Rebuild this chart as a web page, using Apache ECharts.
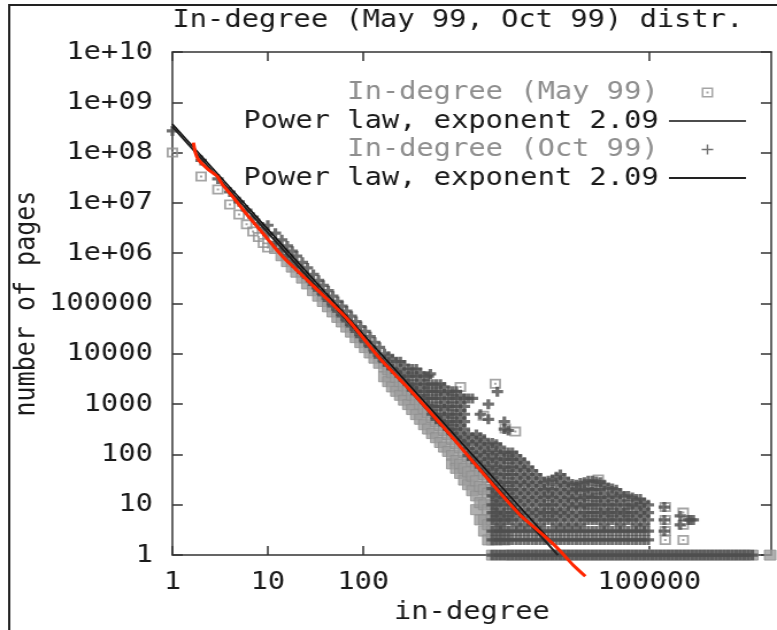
<!DOCTYPE html>
<html>
<head>
<meta charset="utf-8">
<script src="https://cdn.jsdelivr.net/npm/echarts@6/dist/echarts.min.js"></script>
<style>
html,body{margin:0;padding:0;background:#fff;overflow:hidden;}
#c{width:676px;height:630px;transform:scaleX(1.1494);transform-origin:0 0;}
</style>
</head>
<body>
<div id="c"></div>
<script>
// ---- texts ----
const titleText = 'In-degree (May 99, Oct 99) distr.';
const xName = 'in-degree';
const yName = 'number of pages';
const mayName = 'In-degree (May 99)';
const octName = 'In-degree (Oct 99)';
const lawName1 = 'Power law, exponent 2.09';
const lawName2 = 'Power law, exponent 2.09#2';

// ---- ticks ----
const xTickValues = [1, 10, 100, 100000];
const xTickLabels = ['1', '10', '100', '100000'];
const yTickValues = [1, 10, 100, 1000, 10000, 100000, 1e6, 1e7, 1e8, 1e9, 1e10];
const yTickLabels = ['1', '10', '100', '1000', '10000', '100000', '1e+06', '1e+07', '1e+08', '1e+09', '1e+10'];

// ---- May 99 data: [in-degree, [counts...]] ----
const mayColumns = [
  [1,[1.0e8]],[2,[3.35e7]],[3,[1.85e7]],[4,[9.3e6]],[5,[5.9e6]],[6,[3.75e6]],[7,[2.7e6]],[8,[2.1e6]],[9,[1.6e6]],[10,[1.3e6]],
  [12,[1.24e6]],[14,[8.9e5]],[16,[6.8e5]],[18,[5.3e5]],[20,[4.2e5]],[23,[3.2e5]],[26,[2.45e5]],[30,[1.8e5]],[34,[1.4e5]],
  [38,[1.1e5]],[43,[8.6e4]],[48,[6.8e4]],[54,[5.3e4]],[60,[4.3e4]],[67,[3.4e4]],[75,[2.7e4]],[84,[2.1e4]],[94,[1.67e4]],
  [105,[1.33e4]],[118,[1.04e4]],[132,[8.2e3]],[148,[6.5e3]],
  [167,[5500,3500]],[184,[4800,2800]],[202,[4200,2200]],[223,[3400,1800]],[245,[2800,1500]],[270,[2300,1200]],
  [298,[1850,980]],[328,[1500,780]],[361,[1230,620]],[398,[1000,500]],[438,[815,390]],[482,[670,320]],
  [531,[540,260]],[585,[450,215]],[645,[375,173]],[710,[300,140]],[782,[250,115]],[861,[200,95,65]],
  [948,[165,76,53]],[1045,[135,64,42]],[1150,[110,53,31]],[1267,[90,45,25]],[1396,[73,37,19]],[1537,[60,30,15,8]],
  [1693,[48,23,11,5]],[1863,[40,20,10,5,3]],[2053,[34,17,8,4,2]],[2260,[20,10,5,3,2,1]],[2490,[12,6,3,2,1]],[3020,[5,3,2,1]]
];
const mayOutliers = [
  [1045,[2200]],[2431,[2550]],[1820,[590]],[3090,[330]],[3940,[285]],[29200,[32]],
  [147000,[9,5,3,2]],[227000,[7,4,2]]
];
const mayRowK = [3326,3664,4034,4444,4894,5390,5937,6540,7200,7930,8735,9620,10600,11670,12850,14160,15590,17170,
  18910,20830,22940,25270,27820,30650,33750,37180,40940,45100,49660,54700,60240,66350,73080,80480,88650,97600,
  107500,118400,130400,143600,158100,174200,191800,211300,232600,256300,282200,311000,342300,377000,415000,
  457000,503500,555000,610800,673000,741000,817000,899000,990000,1091000,1200000,1850000];

// ---- Oct 99 data: [in-degree, [counts...]] ----
const octColumns = [
  [1,[2.7e8]],[2,[7.0e7]],[3,[3.0e7]],[4,[1.65e7]],[5,[1.05e7]],[6,[7.2e6]],[7,[5.2e6]],[8,[3.9e6]],[9,[3.1e6]],
  [10,[3.6e6,2.4e6]],[12,[2.5e6,1.65e6]],[14,[1.85e6,1.2e6]],[16,[1.4e6,9.0e5]],[18,[1.1e6,7.0e5]],[20,[8.8e5,5.6e5]],
  [23,[6.6e5,4.2e5]],[26,[5.1e5,3.3e5]],[30,[3.8e5,2.4e5]],[34,[2.9e5,1.85e5]],[38,[2.3e5,1.5e5]],[43,[1.8e5,1.15e5]],
  [48,[1.4e5,9.0e4]],[54,[1.1e5,7.1e4]],[60,[8.9e4,5.7e4]],[67,[7.1e4,4.5e4]],[75,[5.6e4,3.6e4]],[84,[4.4e4,2.8e4]],
  [94,[3.5e4,2.2e4]],[105,[2.8e4,1.75e4]],[118,[2.2e4,1.4e4]],[132,[1.7e4,1.1e4]],[148,[1.35e4,8.6e3]],
  [167,[10000,7000]],[184,[9000,6000]],[202,[8000,5000]],[223,[7000,4500]],[245,[7000,5000,3600]],
  [270,[6000,4200,3000]],[298,[5000,3600,2500]],[328,[5000,3600,2500,1900]],[361,[5000,3600,2500,1800]],
  [398,[4200,3000,2100,1500]],[438,[3600,2500,1800,1300]],[482,[3600,2500,1800,1300,950]],
  [531,[2500,1800,1300,900,630]],[585,[2500,1800,1300,900,630,500]],[645,[2500,1800,1300,900,630,450]],
  [710,[2200,1600,1100,800,560,400]],[782,[1800,1300,900,630,450,320]],[861,[1800,1300,900,630,450,320,260]],
  [948,[1800,1300,900,630,450,320,220]],[1045,[1500,1100,750,530,380,270,190]],
  [1150,[1300,900,630,450,320,220,160]],[1267,[1300,250,180,130,95]],[1396,[1300,220,160,110,80]],
  [1537,[250,180,130,95,70]],[1693,[630,220,160,110,80,56]],[1863,[200,140,100,70,50]],
  [2053,[1000,500,160,110,80,56,40]],
  [2260,[170,120,85,60,42,30,21,15,10,7,5,3,2,1]],[2490,[160,110,80,56,40,28,20,14,10,7,5,3,2,1]],
  [2742,[140,100,70,50,35,25,17,12,8,6,4,3,2,1]],[3020,[450,320,110,80,56,40,28,20,14,10,7,5,3,2,1]],
  [3326,[300,110,80,56,40,28,20,14,10,7,5,3,2,1]],[3664,[110,80,56,40,28,20,14,10,7,5,3,2,1]],
  [4034,[95,68,48,34,24,17,12,8,6,4,3,2,1]],[4444,[80,56,40,28,20,14,10,7,5,3,2,1]],
  [4894,[70,50,35,25,17,12,8,6,4,3,2,1]],[5390,[56,40,28,20,14,10,7,5,3,2,1]],
  [5937,[48,34,24,17,12,8,6,4,3,2,1]],[6540,[40,28,20,14,10,7,5,3,2,1]],
  [7200,[34,24,17,12,8,6,4,3,2,1]],[7930,[28,20,14,10,7,5,3,2,1]],[8735,[30,21,15,10,7,5,3,2,1]],
  [9620,[32,20,14,10,7,5,3,2,1]],[10600,[36,25,17,12,8,6,4,3,2,1]],[11670,[40,28,20,14,10,7,5,3,2,1]],
  [12850,[34,24,17,12,8,6,4,3,2,1]],[14160,[28,20,14,10,7,5,3,2,1]],[15590,[26,18,13,9,6,4,3,2,1]],
  [17170,[25,20,14,10,7,5,3,2,1]],[18910,[27,19,13,9,6,4,3,2,1]],[20830,[28,20,14,10,7,5,3,2,1]],
  [22940,[30,21,15,10,7,5,3,2,1]],[25270,[30,20,14,10,7,5,3,2,1]],[27820,[29,20,14,10,7,5,3,2,1]],
  [30650,[28,20,14,10,7,5,3,2,1]],[33750,[25,17,12,8,6,4,3,2,1]],[37180,[22,14,10,7,5,3,2,1]],
  [40940,[21,15,10,7,5,3,2,1]],[45100,[20,14,10,7,5,3,2,1]],[49660,[17,12,8,6,4,3,2,1]],
  [54700,[15,10,7,5,3,2,1]],[60240,[15,10,7,5,3,2,1]],[66350,[14,10,7,5,3,2,1]],[73080,[13,9,6,4,3,2,1]],
  [80480,[13,10,7,5,3,2,1]],[88650,[11,8,6,4,3,2,1]],[97600,[10,7,5,3,2,1]],
  [143600,[9,5,3]],[211300,[6,4]],[256300,[5]],[289000,[5]]
];
const octOutliers = [[506,[4000]],[2553,[1770]],[269000,[5]]];
const octRowK = [107500,118400,130400,143600,158100,174200,191800,211300,232600,256300,282200,311000,342300,
  377000,415000,457000,503500,555000,610800,673000,741000,817000,899000,990000,1091000,1200000];

// ---- power-law fits (end points) ----
const law1K = [1, 12600];
const law1C = [3.7e8, 1];
const law2K = [1, 11000];
const law2C = [3.3e8, 1];

// ---- red hand-drawn trend line ----
const redK = [1.66,1.74,1.87,2.38,2.96,3.34,4.26,6.26,9.44,14.2,30.1,68.3,151,336,763,1330,2317,4446,7745,10860,15970,21330];
const redC = [1.58e8,1.0e8,7.26e7,4.6e7,3.35e7,2.32e7,1.35e7,5.4e6,2.17e6,8.7e5,2.22e5,4.93e4,7960,1615,285,83,24.3,6.2,2.49,1.38,0.63,0.38];

// ---- styles ----
const FONT = 'DejaVu Sans Mono';
const FS = 25;
const AX = '#333';
const squarePath = 'path://M0,0H10V10H0ZM1.8,1.8V8.2H8.2V1.8ZM4,4H6V6H4Z';
const squareIcon = 'path://M0,0H10V10H0ZM1.5,1.5V8.5H8.5V1.5ZM4,4H6V6H4Z';
const plusPath = 'path://M3.4,0H6.6V3.4H10V6.6H6.6V10H3.4V6.6H0V3.4H3.4Z';
const plusIcon = 'path://M4.3,0H5.7V4.3H10V5.7H5.7V10H4.3V5.7H0V4.3H4.3Z';
const lineIcon1 = 'path://M0,0H67V1.6H0Z';
const lineIcon2 = 'path://M0,0H67V2.2H0Z';
const mayColor = '#8e8e8e';
const mayFill = '#9c9c9c';
const octColor = '#4e4e4e';
const txt = '#1a1a1a';
const pad = [0, 4, 0, 0];

// ---- build ----
const hollow = {symbol: squarePath, itemStyle: {color: mayColor, borderWidth: 0}};
function flatten(cols, styleFn){ const out=[]; cols.forEach(([k,cs])=>cs.forEach(c=>out.push(styleFn ? Object.assign({value:[k,c]}, styleFn(k,c)) : [k,c]))); return out; }
const mayData = flatten(mayColumns, k => (k <= 10 ? hollow : {}))
  .concat(flatten(mayOutliers, () => hollow))
  .concat(mayRowK.map(k => ({value: [k, 1]})));
const octData = flatten(octColumns).concat(flatten(octOutliers)).concat(octRowK.map(k=>[k,1]));
const zip = (a,b)=>a.map((v,i)=>[v,b[i]]);

const chart = echarts.init(document.getElementById('c'));
const xMin = 1, xMax = 1.9e6, yMin = 1, yMax = 1e10;
chart.setOption({
  animation: false,
  backgroundColor: '#fff',
  textStyle: {fontFamily: FONT},
  title: {text: titleText, left: 150, top: 8, padding: 0,
    textStyle: {fontFamily: FONT, fontSize: FS, fontWeight: 'normal', color: txt}},
  grid: {left: 150, right: 5, top: 52, bottom: 73, containLabel: false},
  legend: {
    orient: 'vertical', align: 'right', right: 22, top: 75, itemWidth: 67, itemHeight: 10, itemGap: 3.5,
    textStyle: {fontFamily: FONT, fontSize: FS, padding: pad},
    formatter: n => n.split('#')[0],
    selectedMode: false,
    data: [
      {name: mayName, icon: squareIcon, itemStyle: {color: mayColor, borderWidth: 0}, textStyle: {color: mayColor, padding: pad}},
      {name: lawName1, icon: lineIcon1, itemStyle: {color: '#111', borderWidth: 0}, textStyle: {color: txt, padding: pad}},
      {name: octName, icon: plusIcon, itemStyle: {color: octColor, borderWidth: 0}, textStyle: {color: mayColor, padding: pad}},
      {name: lawName2, icon: lineIcon2, itemStyle: {color: '#222', borderWidth: 0}, textStyle: {color: txt, padding: pad}}
    ]
  },
  xAxis: [
    {type: 'log', logBase: 10, min: xMin, max: xMax, position: 'bottom',
      name: xName, nameLocation: 'middle', nameGap: 44,
      nameTextStyle: {fontFamily: FONT, fontSize: FS, color: txt},
      axisLine: {lineStyle: {color: AX, width: 1.5}},
      axisTick: {inside: true, length: 9, customValues: xTickValues, lineStyle: {color: AX, width: 1.5}},
      axisLabel: {customValues: xTickValues, margin: 15, fontFamily: FONT, fontSize: FS, color: txt,
        formatter: v => xTickLabels[xTickValues.indexOf(v)] ?? String(v)},
      splitLine: {show: false}},
    {type: 'log', logBase: 10, min: xMin, max: xMax, position: 'top',
      axisLine: {lineStyle: {color: AX, width: 1.5}},
      axisTick: {inside: true, length: 9, customValues: xTickValues, lineStyle: {color: AX, width: 1.5}},
      axisLabel: {show: false}, splitLine: {show: false}}
  ],
  yAxis: [
    {type: 'log', logBase: 10, min: yMin, max: yMax, position: 'left',
      name: yName, nameLocation: 'middle', nameGap: 114, nameRotate: 90, nameMoveOverlap: false,
      nameTextStyle: {fontFamily: FONT, fontSize: FS, color: txt},
      axisLine: {lineStyle: {color: AX, width: 1.5}},
      axisTick: {inside: true, length: 9, customValues: yTickValues, lineStyle: {color: AX, width: 1.5}},
      axisLabel: {customValues: yTickValues, margin: 17, fontFamily: FONT, fontSize: FS, color: txt,
        formatter: v => { const i = yTickValues.findIndex(t => Math.abs(Math.log10(t) - Math.log10(v)) < 1e-6); return i >= 0 ? yTickLabels[i] : ''; }},
      splitLine: {show: false}},
    {type: 'log', logBase: 10, min: yMin, max: yMax, position: 'right',
      axisLine: {lineStyle: {color: AX, width: 1.5}},
      axisTick: {inside: true, length: 9, customValues: yTickValues, lineStyle: {color: AX, width: 1.5}},
      axisLabel: {show: false}, splitLine: {show: false}}
  ],
  graphic: [{type: 'polyline', silent: true, shape: {points: [[8, 630], [8, 5], [680, 5]]},
    style: {stroke: '#222', lineWidth: 2, fill: null}}],
  series: [
    {name: mayName, type: 'scatter', data: mayData, symbol: 'rect', symbolSize: 10,
      itemStyle: {color: mayFill, borderColor: mayColor, borderWidth: 1}, silent: true},
    {name: lawName1, type: 'line', data: zip(law1K, law1C), symbol: 'none',
      lineStyle: {color: '#111', width: 1.5}, silent: true},
    {name: octName, type: 'scatter', data: octData, symbol: plusPath, symbolSize: 10,
      itemStyle: {color: octColor}, silent: true},
    {name: lawName2, type: 'line', data: zip(law2K, law2C), symbol: 'none',
      lineStyle: {color: '#222', width: 2}, silent: true},
    {name: 'trend', type: 'line', data: zip(redK, redC), symbol: 'none', smooth: 0.2, clip: false,
      lineStyle: {color: '#ff2600', width: 3}, silent: true, z: 5}
  ]
});
</script>
</body>
</html>
